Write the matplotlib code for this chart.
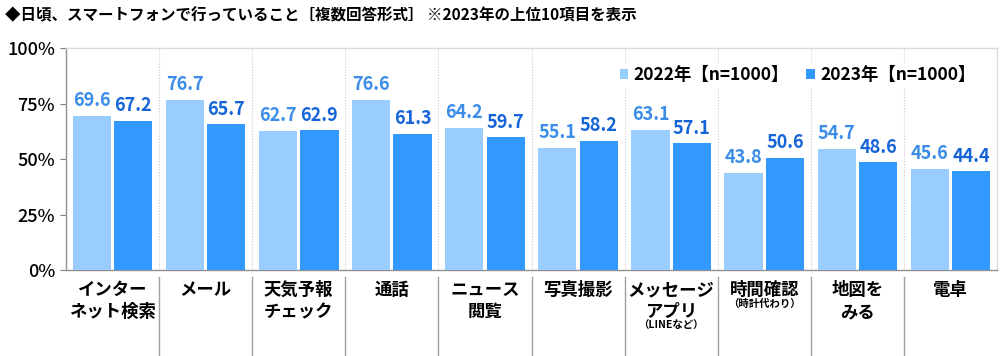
import matplotlib
matplotlib.use("Agg")
import matplotlib.pyplot as plt
import numpy as np
from matplotlib.lines import Line2D

plt.rcParams['font.family'] = ['Noto Sans CJK JP', 'DejaVu Sans']

categories = ["インター\nネット検索", "メール", "天気予報\nチェック", "通話", "ニュース\n閲覧",
              "写真撮影", "メッセージ\nアプリ", "時間確認", "地図を\nみる", "電卓"]
notes = ["", "", "", "", "", "", "（LINEなど）", "（時計代わり）", "", ""]
series_names = ["2022年【n=1000】", "2023年【n=1000】"]
values_2022 = [69.6, 76.7, 62.7, 76.6, 64.2, 55.1, 63.1, 43.8, 54.7, 45.6]
values_2023 = [67.2, 65.7, 62.9, 61.3, 59.7, 58.2, 57.1, 50.6, 48.6, 44.4]
yticks = [0, 25, 50, 75, 100]
title = "◆日頃、スマートフォンで行っていること［複数回答形式］ ※2023年の上位10項目を表示"

c22, c23 = "#99CCFF", "#3399FF"
t22, t23 = "#3B8DE8", "#1565D8"

fig = plt.figure(figsize=(10, 3.56), dpi=100)
ax = fig.add_axes([0.066, 0.2416, 0.931, 0.6234])

n = len(categories)
x = np.arange(n)
w = 0.41
off = 0.222
b1 = ax.bar(x - off, values_2022, w, color=c22, label=series_names[0], zorder=3)
b2 = ax.bar(x + off, values_2023, w, color=c23, label=series_names[1], zorder=3)

for bars, vals, col in [(b1, values_2022, t22), (b2, values_2023, t23)]:
    for r, v in zip(bars, vals):
        ax.annotate(f"{v:.1f}", (r.get_x() + r.get_width() / 2, v),
                    xytext=(0, 4), textcoords="offset points", ha="center", va="bottom",
                    fontsize=13, fontweight="bold", color=col, zorder=5)

ax.set_xlim(-0.5, n - 0.5)
ax.set_ylim(0, 100)
ax.set_yticks(yticks)
ax.set_yticklabels([f"{t}%" for t in yticks], fontsize=13, fontweight="medium")
ax.tick_params(axis='y', length=4, color="#808080", pad=4)
ax.set_xticks([])

for s in ["left", "bottom"]:
    ax.spines[s].set_color("#909090")
    ax.spines[s].set_linewidth(1.0)
for s in ["top", "right"]:
    ax.spines[s].set_color("#D9D9D9")
    ax.spines[s].set_linewidth(1.0)

# category separators
for i in range(1, n):
    ax.axvline(i - 0.5, color="#CCCCCC", linestyle=(0, (1, 1.5)), linewidth=0.8, zorder=1)
    ax.add_line(Line2D([i - 0.5, i - 0.5], [-0.03, -0.39], transform=ax.get_xaxis_transform(),
                       color="#A0A0A0", linewidth=1.0, clip_on=False))

tr = ax.get_xaxis_transform()
for i, (lab, note) in enumerate(zip(categories, notes)):
    ax.text(i, -0.05, lab, transform=tr, ha="center", va="top", fontsize=12.5,
            fontweight="bold", linespacing=1.3)
    if note:
        nlines = lab.count("\n") + 1
        ax.text(i, -0.052 - 0.099 * nlines, note, transform=tr, ha="center", va="center",
                fontsize=7.5, fontweight="bold")

leg = ax.legend(loc="center right", bbox_to_anchor=(0.99, 0.878), ncol=2, frameon=True,
                fontsize=12.5, handlelength=0.5, handleheight=0.5, handletextpad=0.3,
                columnspacing=1.0, borderpad=0.2)
leg.get_frame().set_edgecolor("none")
leg.get_frame().set_facecolor("white")
leg.get_frame().set_alpha(1)
for t in leg.get_texts():
    t.set_fontweight("bold")

fig.text(0.005, 0.958, title, fontsize=11.2, fontweight="bold", ha="left", va="center")

fig.savefig("out.png", dpi=100)
